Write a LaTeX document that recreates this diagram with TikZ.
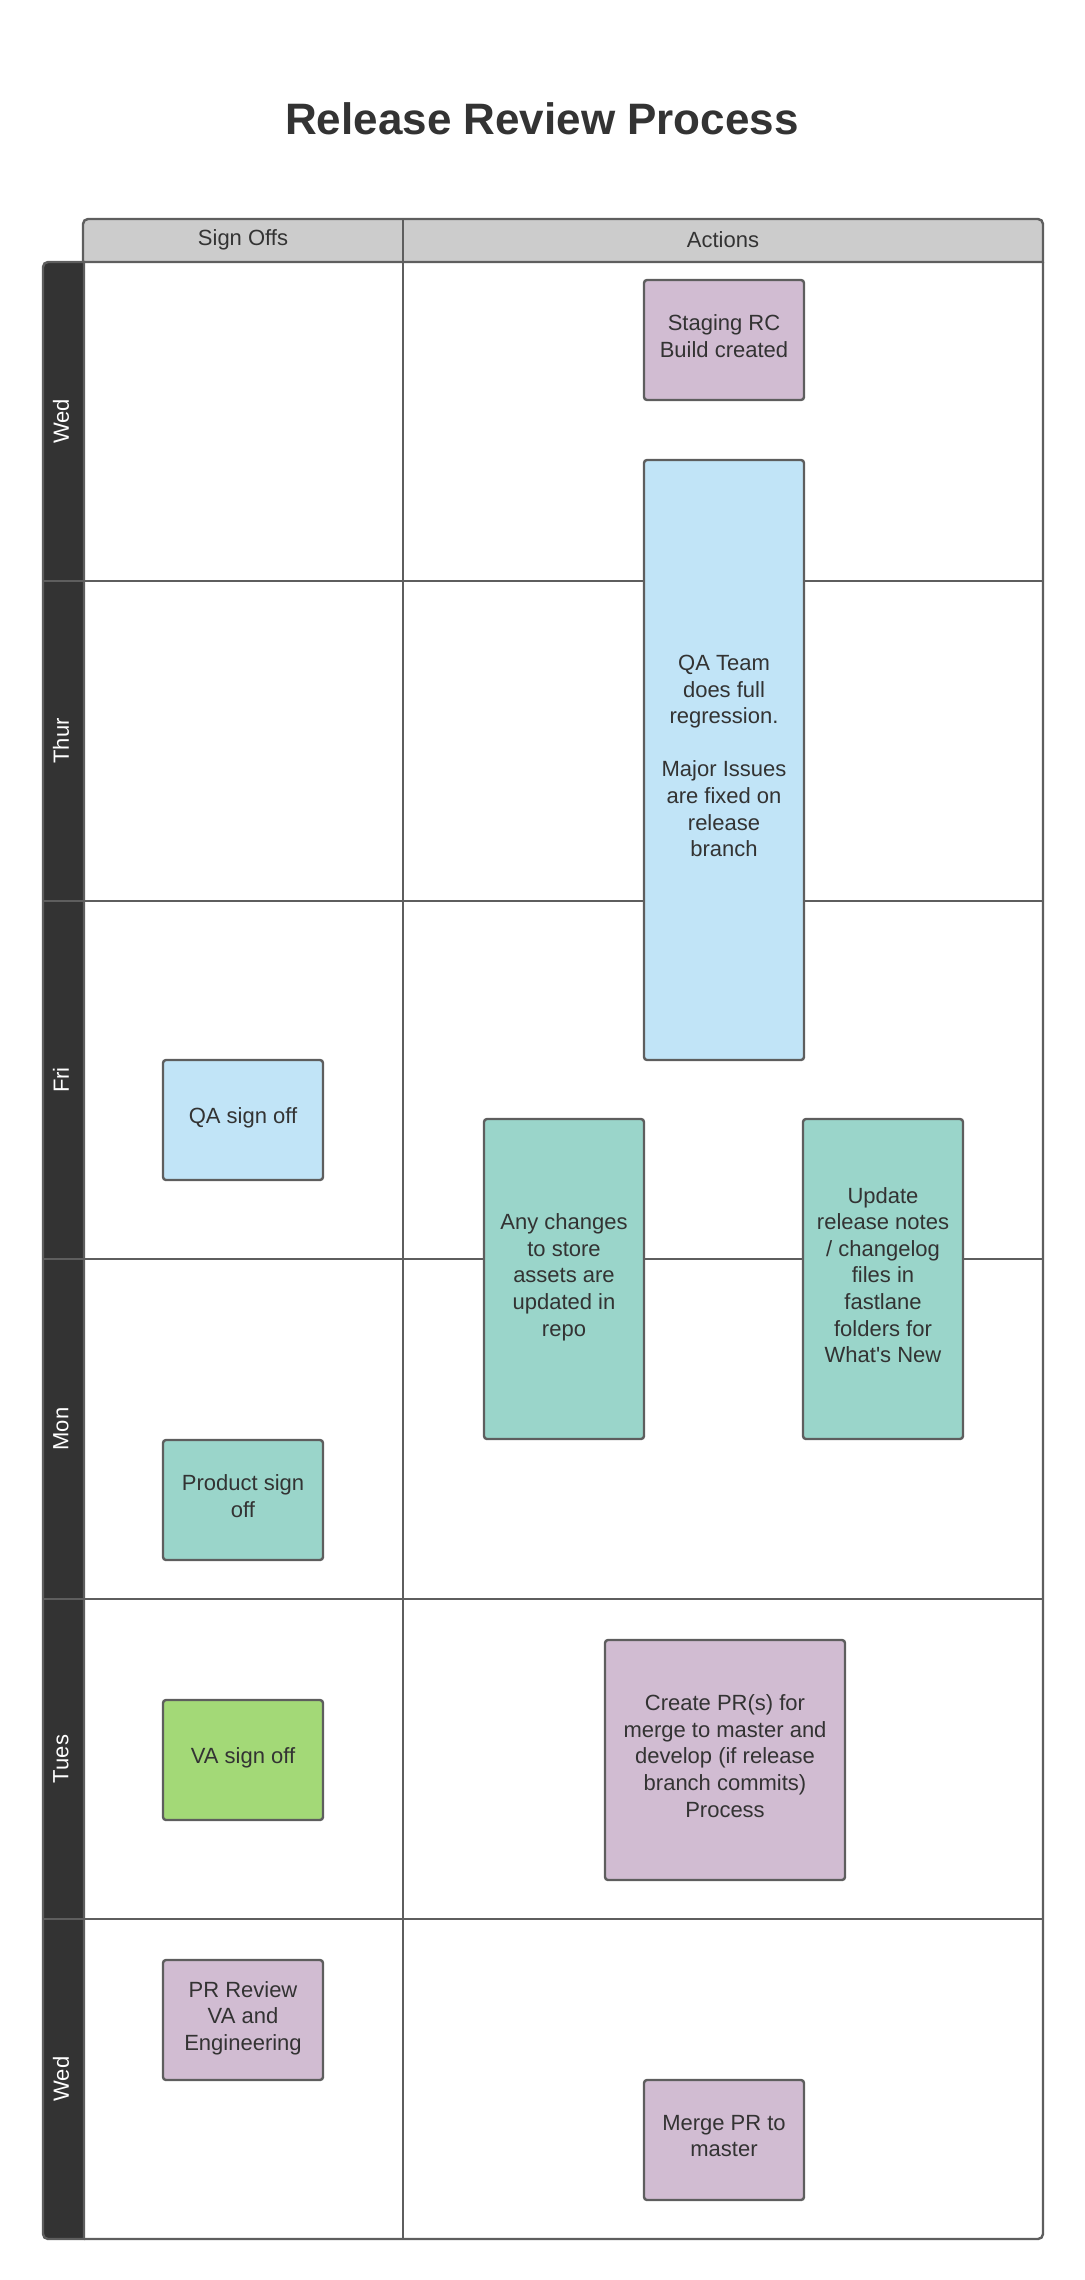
\documentclass[tikz,border=0pt]{standalone}
\usepackage{fontspec}
\setmainfont{Liberation Sans}
\usepackage{tikz}
\definecolor{linegray}{HTML}{5E5E5E}
\definecolor{textgray}{HTML}{333333}
\definecolor{headgray}{HTML}{CCCCCC}
\definecolor{lilac}{HTML}{D1BCD2}
\definecolor{skyblue}{HTML}{C1E4F7}
\definecolor{teal}{HTML}{9AD5CA}
\definecolor{leaf}{HTML}{A3D977}

\begin{document}
\begin{tikzpicture}[x=0.5pt, y=-0.5pt,
    lane/.style={draw=linegray, line width=1.2pt},
    task/.style={draw=linegray, line width=1.2pt, rounded corners=1.5pt, align=center,
                 text=textgray, font=\fontsize{11}{13.3}\selectfont, inner sep=4pt,
                 minimum width=80pt, minimum height=60pt,
                 execute at end node={\rule[-4pt]{0pt}{0pt}}},
    daylabel/.style={rotate=90, text=white, font=\fontsize{11}{13}\selectfont},
    headlabel/.style={text=textgray, font=\fontsize{11}{13}\selectfont}]

   \useasboundingbox (0,0) rectangle (1084,2280);
   \node[text=textgray, font=\fontsize{22}{26}\selectfont\bfseries] (title) at (542,119) {Release Review Process};

   \filldraw[lane, fill=headgray] (83,262) [rounded corners=2.5pt] -- (83,219) -- (1043,219) [sharp corners] -- (1043,262) -- cycle;
   \filldraw[lane, fill=textgray] (84,262) [rounded corners=2.5pt] -- (43,262) -- (43,2239) [sharp corners] -- (84,2239) -- cycle;
   \draw[lane] (84,262) -- (1043,262);
   \draw[lane] (1043,262) [rounded corners=2.5pt] -- (1043,2239) -- (84,2239);
   \draw[lane] (403,219) -- (403,2239);
   \foreach \y in {581,901,1259,1599,1919}
      \draw[lane] (43,\y) -- (1043,\y);

   \node[headlabel] (signoffs) at (243,239.5) {Sign Offs};
   \node[headlabel] (actions) at (723,239.5) {Actions};

   \node[daylabel] (wedA) at (61,421.5) {Wed};
   \node[daylabel] (thur) at (61,741) {Thur};
   \node[daylabel] (fri) at (61,1080) {Fri};
   \node[daylabel] (mon) at (61,1429) {Mon};
   \node[daylabel] (tues) at (61,1759) {Tues};
   \node[daylabel] (wedB) at (61,2079) {Wed};

   \node[task, fill=lilac] (staging) at (724,340) {Staging RC\\Build created};
   \node[task, fill=skyblue, minimum height=300pt] (regression) at (724,760)
      {QA Team\\does full\\regression.\\[13.3pt]Major Issues\\are fixed on\\release\\branch};
   \node[task, fill=skyblue] (qasign) at (243,1120) {QA sign off};
   \node[task, fill=teal, minimum height=160pt] (storeassets) at (564,1279)
      {Any changes\\to store\\assets are\\updated in\\repo};
   \node[task, fill=teal, minimum height=160pt] (releasenotes) at (883,1279)
      {Update\\release notes\\/ changelog\\files in\\fastlane\\folders for\\What\textquotesingle s New};
   \node[task, fill=teal] (productsign) at (243,1500) {Product sign\\off};
   \node[task, fill=leaf] (vasign) at (243,1760) {VA sign off};
   \node[task, fill=lilac, minimum width=120pt, minimum height=120pt] (createpr) at (725,1760)
      {Create PR(s) for\\merge to master and\\develop (if release\\branch commits)\\Process};
   \node[task, fill=lilac] (prreview) at (243,2020) {PR Review\\VA and\\Engineering};
   \node[task, fill=lilac] (mergepr) at (724,2140) {Merge PR to\\master};
\end{tikzpicture}
\end{document}
